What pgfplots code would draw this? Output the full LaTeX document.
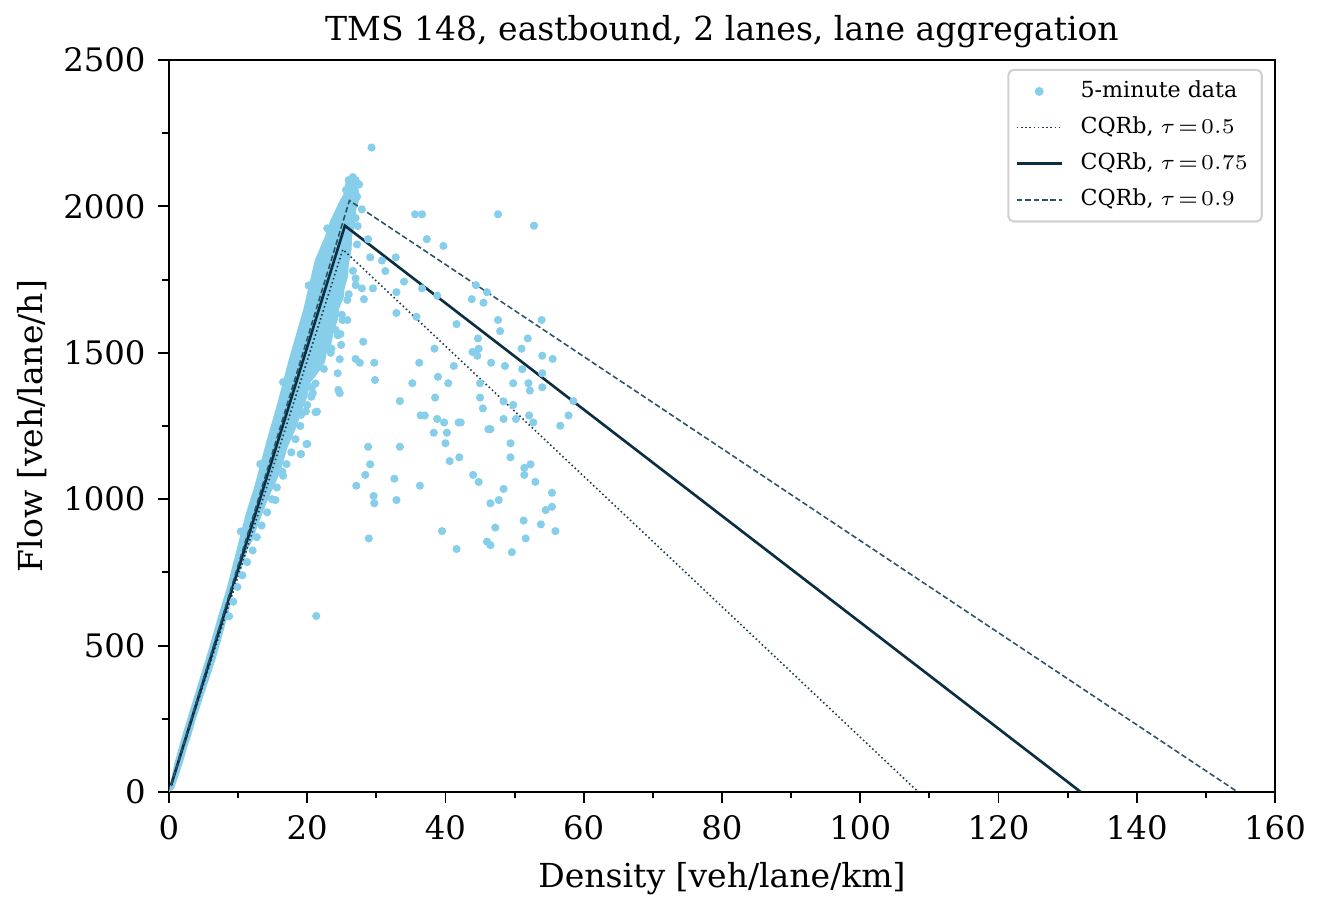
\documentclass[border=0pt]{standalone}
\usepackage{fontspec}
\setmainfont{DejaVu Serif}
\usepackage{pgfplots}
\pgfplotsset{compat=1.18}

\definecolor{skyblue}{HTML}{87CEEB}
\definecolor{navysolid}{HTML}{0C2E42}
\definecolor{navydash}{HTML}{2D5366}
\definecolor{navydot}{HTML}{1E3D50}

\pgfplotsset{
  linelegend/.style={legend image code/.code={\draw[##1] (0cm,0cm) -- (0.45cm,0cm);}},
  scatlegend/.style={legend image code/.code={\draw[mark repeat=2,mark phase=2,##1] plot coordinates {(0cm,0cm) (0.225cm,0cm) (0.45cm,0cm)};}},
}

\begin{document}
\begin{tikzpicture}
\begin{axis}[
scale only axis,
width=11.06cm,
height=7.32cm,
xmin=0, xmax=160,
ymin=0, ymax=2500,
xtick distance=20,
ytick distance=500,
minor x tick num=1,
minor y tick num=1,
tick pos=left,
tick align=outside,
major tick length=0.11cm,
minor tick length=0.065cm,
every tick/.style={black, line width=0.55pt},
axis line style={line width=0.6pt},
/pgf/number format/1000 sep={},
/pgf/number format/assume math mode=true,
scaled ticks=false,
tick label style={font=\fontsize{9.2}{10}\selectfont},
title={TMS 148, eastbound, 2 lanes, lane aggregation},
every axis title/.style={at={(axis description cs:0.5,1.027)}, anchor=base,
  font=\fontsize{9.4}{11}\selectfont},
xlabel={Density [veh/lane/km]},
ylabel={Flow [veh/lane/h]},
every axis x label/.style={at={(axis description cs:0.5,-0.13)}, anchor=base,
  font=\fontsize{9.4}{11}\selectfont},
every axis y label/.style={at={(axis description cs:-0.114,0.5)}, rotate=90, anchor=base,
  font=\fontsize{9.4}{11}\selectfont},
legend style={at={(axis description cs:0.989,0.988)}, anchor=north east,
  draw=black!18, line width=0.6pt, rounded corners=1.5pt, fill=white,
  font=\fontsize{6.3}{7.5}\selectfont, inner xsep=2pt, inner ysep=1pt,
  row sep=0pt, /tikz/column sep=3pt, cells={anchor=west}},
linelegend,
]
% dense free-flow band
\addplot[draw=none, fill=skyblue, forget plot] coordinates {
(0.0,0) (0.2,30) (0.8,100) (2.0,200) (3.3,300) (4.6,400) (5.9,500) (7.1,600)
(8.4,700) (9.8,830) (11.1,950) (12.4,1048) (14.0,1190) (15.7,1330) (17.3,1475)
(19.4,1646) (21.1,1817) (22.6,1900) (23.3,1950) (24.5,2010) (25.3,2045)
(25.6,2090) (26.3,2100)
(27.3,2080) (27.6,2030) (27.1,1990) (27.0,1950) (26.5,1900) (26.4,1850)
(26.0,1800) (25.9,1760) (25.4,1720) (25.3,1690) (24.6,1650) (24.4,1610)
(23.8,1570) (23.5,1530) (22.8,1500) (22.6,1470) (21.8,1440) (21.2,1420)
(20.5,1400) (20.0,1350) (19.2,1300) (18.5,1250) (17.8,1210) (17.2,1180)
(16.7,1140) (16.2,1100) (15.5,1060) (14.7,1020) (14.0,980) (13.5,950)
(12.7,900) (12.1,860) (11.4,830) (10.9,790) (10.2,750) (9.7,720) (9.1,670)
(8.6,610) (8.0,560) (7.3,500) (6.7,450) (6.0,400) (5.3,350) (4.6,300)
(3.9,250) (3.3,200) (2.6,150) (2.0,100) (1.3,50) (0.7,10)
} -- cycle;
% 5-minute observations
\addplot[only marks, mark=*, mark size=0.95pt, color=skyblue,
  mark options={draw=none, fill=skyblue}, scatlegend]
coordinates {
(10.4,890) (13.2,1120) (16.5,1400) (20.2,1730) (22.9,1925)
(26.0,2090) (27.0,2090) (25.6,2056) (26.3,2067) (26.8,2050) (27.2,2033)
(27.0,1960) (27.3,1933) (26.6,2100) (27.5,2075)
(27.9,1990) (27.2,1870) (26.6,1780) (26.0,1700) (25.0,1630) (24.4,1560)
(23.4,1500) (22.4,1445) (21.2,1395) (20.6,1350) (19.8,1300) (19.0,1250)
(18.3,1205) (17.7,1160) (17.0,1120) (16.5,1080) (15.6,1040) (14.9,1000)
(14.2,955) (13.4,910) (12.7,870) (12.1,825) (11.3,785) (10.6,740) (9.9,700)
(9.3,650) (8.7,600)
(16.4,1094) (15.4,997) (20.0,1322) (21.2,1297) (19.1,1288) (20.8,1362)
(20.7,1383) (19.9,1188) (19.05,1154) (25.8,1680) (25.1,1612) (25.8,1612)
(24.1,1578) (24.8,1564) (24.9,1527) (23.5,1514) (24.7,1478)
(35.6,1973) (36.6,1973) (47.6,1973) (52.8,1934) (37.3,1888) (39.7,1865)
(28.8,1888) (29.1,1826) (30.8,1815) (32.8,1826) (31.3,1779) (27.0,1754)
(27.0,1731) (27.9,1720) (29.5,1720) (28.2,1683) (34.0,1743) (32.9,1707)
(36.6,1720) (38.8,1695) (44.4,1731) (46.0,1707) (43.8,1683) (45.5,1671)
(32.9,1636) (35.8,1623) (41.6,1598) (47.6,1612) (47.9,1574) (53.9,1612)
(51.9,1549) (44.7,1549) (44.8,1514) (43.9,1503) (44.6,1490) (51.0,1514)
(54.0,1490) (55.5,1479) (46.6,1466) (48.6,1455) (41.2,1455) (38.4,1514)
(36.2,1466) (28.1,1538) (27.0,1479) (27.6,1466) (29.7,1466) (29.8,1407)
(24.4,1430) (24.5,1373) (24.7,1362) (21.4,1299) (20.0,1189) (19.1,1154)
(35.2,1396) (33.4,1335) (38.9,1418) (40.4,1396) (38.5,1347) (45.0,1396)
(45.0,1347) (45.4,1310) (49.8,1396) (52.0,1396) (52.2,1371) (51.1,1444)
(54.0,1430) (54.0,1382) (48.4,1334) (49.8,1322) (48.4,1274) (50.2,1274)
(52.1,1286) (52.7,1262) (57.8,1286) (58.5,1335) (56.6,1251) (36.4,1286)
(37.0,1286) (38.8,1274) (39.8,1262) (41.9,1262) (42.2,1262) (38.3,1227)
(40.2,1227) (40.0,1191) (46.2,1239) (46.5,1239) (49.4,1191) (49.4,1143)
(42.0,1143) (40.6,1130) (28.8,1179) (33.4,1179) (29.1,1119) (28.4,1083)
(32.6,1070) (27.1,1046) (29.6,1011) (29.7,986) (32.9,997) (36.3,1046)
(44.0,1083) (44.8,1059) (51.4,1107) (52.3,1119) (51.4,1083) (53.0,1059)
(48.4,1035) (47.7,997) (46.5,986) (55.4,1022) (55.4,974) (54.5,963)
(51.3,927) (53.8,914) (55.9,891) (47.2,903) (51.6,866) (49.6,819)
(46.0,855) (46.5,843) (41.6,830) (39.5,891) (28.9,866) (21.3,601)
(29.3,2201)
};
\addlegendentry{5-minute data}
\addplot[navydot, line width=0.45pt, dash pattern=on 0.45pt off 0.75pt] coordinates {
(0.3,22) (25.15,1853) (62.35,1026) (108.4,0)
};
\addlegendentry{CQRb, $\tau\!=\!0.5$}
\addplot[navysolid, line width=0.75pt] coordinates {
(0.3,23) (25.45,1934) (131.9,0)
};
\addlegendentry{CQRb, $\tau\!=\!0.75$}
\addplot[navydash, line width=0.45pt, dash pattern=on 1.6pt off 0.8pt] coordinates {
(0.3,23) (26.1,2020) (154.6,0)
};
\addlegendentry{CQRb, $\tau\!=\!0.9$}
\end{axis}
\pgfresetboundingbox
\path ([xshift=-1.69cm,yshift=-1.07cm]current axis.south west) rectangle ([xshift=0.47cm,yshift=0.60cm]current axis.north east);
\end{tikzpicture}
\end{document}
